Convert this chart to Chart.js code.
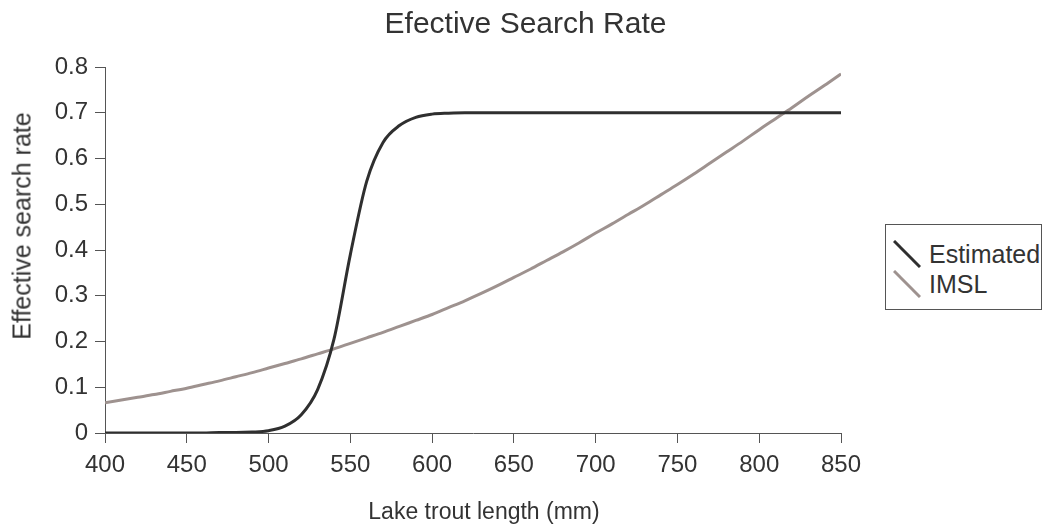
<!DOCTYPE html>
<html>
<head>
<meta charset="utf-8">
<script src="https://cdn.jsdelivr.net/npm/chart.js@4"></script>
<style>
    body { margin: 0; background: #fff; }
    #wrap { position: relative; width: 1051px; height: 531px; font-family: "Liberation Sans", Arial, sans-serif; color: #333; }
    #title { position: absolute; left: 0; top: 8px; width: 1051px; text-align: center; font-size: 30px; line-height: 30px; }
    #xTitle { position: absolute; left: 484px; top: 500px; transform: translateX(-50%); white-space: nowrap; font-size: 23px; line-height: 23px; }
    #yTitle { position: absolute; left: 22px; top: 226px; transform: translate(-50%, -50%) rotate(-90deg); white-space: nowrap; font-size: 25px; line-height: 25px; }
    #legend {
        position: absolute; left: 885px; top: 224px; width: 157px; height: 86px;
        border: 1px solid #555; box-sizing: border-box; background: #fff;
    }
    .item { position: absolute; left: 0; height: 30px; display: flex; align-items: center; }
    .item svg { margin-left: 7px; }
    .item span { margin-left: 8px; font-size: 25px; }
</style>
</head>
<body>
<div id="wrap">
    <canvas id="searchRateChart" width="1051" height="531"></canvas>
    <div id="title">Efective Search Rate</div>
    <div id="xTitle">Lake trout length (mm)</div>
    <div id="yTitle">Effective search rate</div>
    <div id="legend">
        <div class="item" style="top: 14px;">
            <svg width="28" height="28"><line x1="1" y1="1" x2="27" y2="27" stroke="#2f2f2f" stroke-width="3"/></svg>
            <span>Estimated</span>
        </div>
        <div class="item" style="top: 44px;">
            <svg width="28" height="28"><line x1="1" y1="1" x2="27" y2="27" stroke="#9e928f" stroke-width="3"/></svg>
            <span>IMSL</span>
        </div>
    </div>
</div>
<script>
// lake trout length (mm)
const lengths = [400, 410, 420, 430, 440, 450, 460, 470, 480, 490,
    500, 510, 520, 530, 540, 550, 560, 570, 580, 590,
    600, 610, 620, 630, 640, 650, 660, 670, 680, 690,
    700, 710, 720, 730, 740, 750, 760, 770, 780, 790,
    800, 810, 820, 830, 840, 850];

const estimated = [0.000, 0.000, 0.000, 0.000, 0.000, 0.000, 0.000, 0.001, 0.001, 0.002,
    0.005, 0.015, 0.040, 0.095, 0.205, 0.390, 0.550, 0.635, 0.672, 0.690,
    0.697, 0.699, 0.700, 0.700, 0.700, 0.700, 0.700, 0.700, 0.700, 0.700,
    0.700, 0.700, 0.700, 0.700, 0.700, 0.700, 0.700, 0.700, 0.700, 0.700,
    0.700, 0.700, 0.700, 0.700, 0.700, 0.700];

const imsl = [0.066, 0.072, 0.078, 0.084, 0.091, 0.098, 0.106, 0.114, 0.123, 0.132,
    0.142, 0.152, 0.162, 0.173, 0.184, 0.196, 0.208, 0.220, 0.233, 0.246,
    0.259, 0.274, 0.289, 0.305, 0.322, 0.340, 0.358, 0.377, 0.396, 0.416,
    0.437, 0.457, 0.478, 0.499, 0.521, 0.543, 0.566, 0.590, 0.614, 0.638,
    0.663, 0.687, 0.711, 0.736, 0.760, 0.785];

const xTicks = [400, 450, 500, 550, 600, 650, 700, 750, 800, 850];
const yTicks = [0, 0.1, 0.2, 0.3, 0.4, 0.5, 0.6, 0.7, 0.8];

const font = '"Liberation Sans", Arial, sans-serif';
const textColor = '#333';
const axisColor = '#555';

function toPoints(values) {
    return lengths.map((len, i) => ({ x: len, y: values[i] }));
}

const ctx = document.getElementById('searchRateChart').getContext('2d');
new Chart(ctx, {
    type: 'line',
    data: {
        datasets: [{
            label: 'Estimated',
            data: toPoints(estimated),
            borderColor: '#2f2f2f',
            borderWidth: 3,
            pointRadius: 0,
            cubicInterpolationMode: 'monotone',
            fill: false
        }, {
            label: 'IMSL',
            data: toPoints(imsl),
            borderColor: '#9e928f',
            borderWidth: 3,
            pointRadius: 0,
            cubicInterpolationMode: 'monotone',
            fill: false
        }]
    },
    options: {
        responsive: false,
        animation: false,
        layout: {
            padding: { top: 67, right: 210, bottom: 0, left: 0 }
        },
        plugins: {
            legend: { display: false },
            tooltip: { enabled: false }
        },
        scales: {
            x: {
                type: 'linear',
                min: 400,
                max: 850,
                afterBuildTicks: scale => { scale.ticks = xTicks.map(v => ({ value: v })); },
                afterFit: scale => { scale.height = 98; },
                grid: { drawOnChartArea: false, drawTicks: true, tickLength: 10, color: axisColor },
                border: { display: true, color: axisColor, width: 1 },
                ticks: {
                    color: textColor,
                    padding: 8,
                    maxRotation: 0,
                    font: { family: font, size: 24 }
                }
            },
            y: {
                min: 0,
                max: 0.8,
                afterBuildTicks: scale => { scale.ticks = yTicks.map(v => ({ value: v })); },
                afterFit: scale => { scale.width = 105; },
                grid: { drawOnChartArea: false, drawTicks: true, tickLength: 10, color: axisColor },
                border: { display: true, color: axisColor, width: 1 },
                ticks: {
                    color: textColor,
                    padding: 7,
                    font: { family: font, size: 24 },
                    callback: v => String(Math.round(v * 10) / 10)
                }
            }
        }
    }
});
</script>
</body>
</html>
